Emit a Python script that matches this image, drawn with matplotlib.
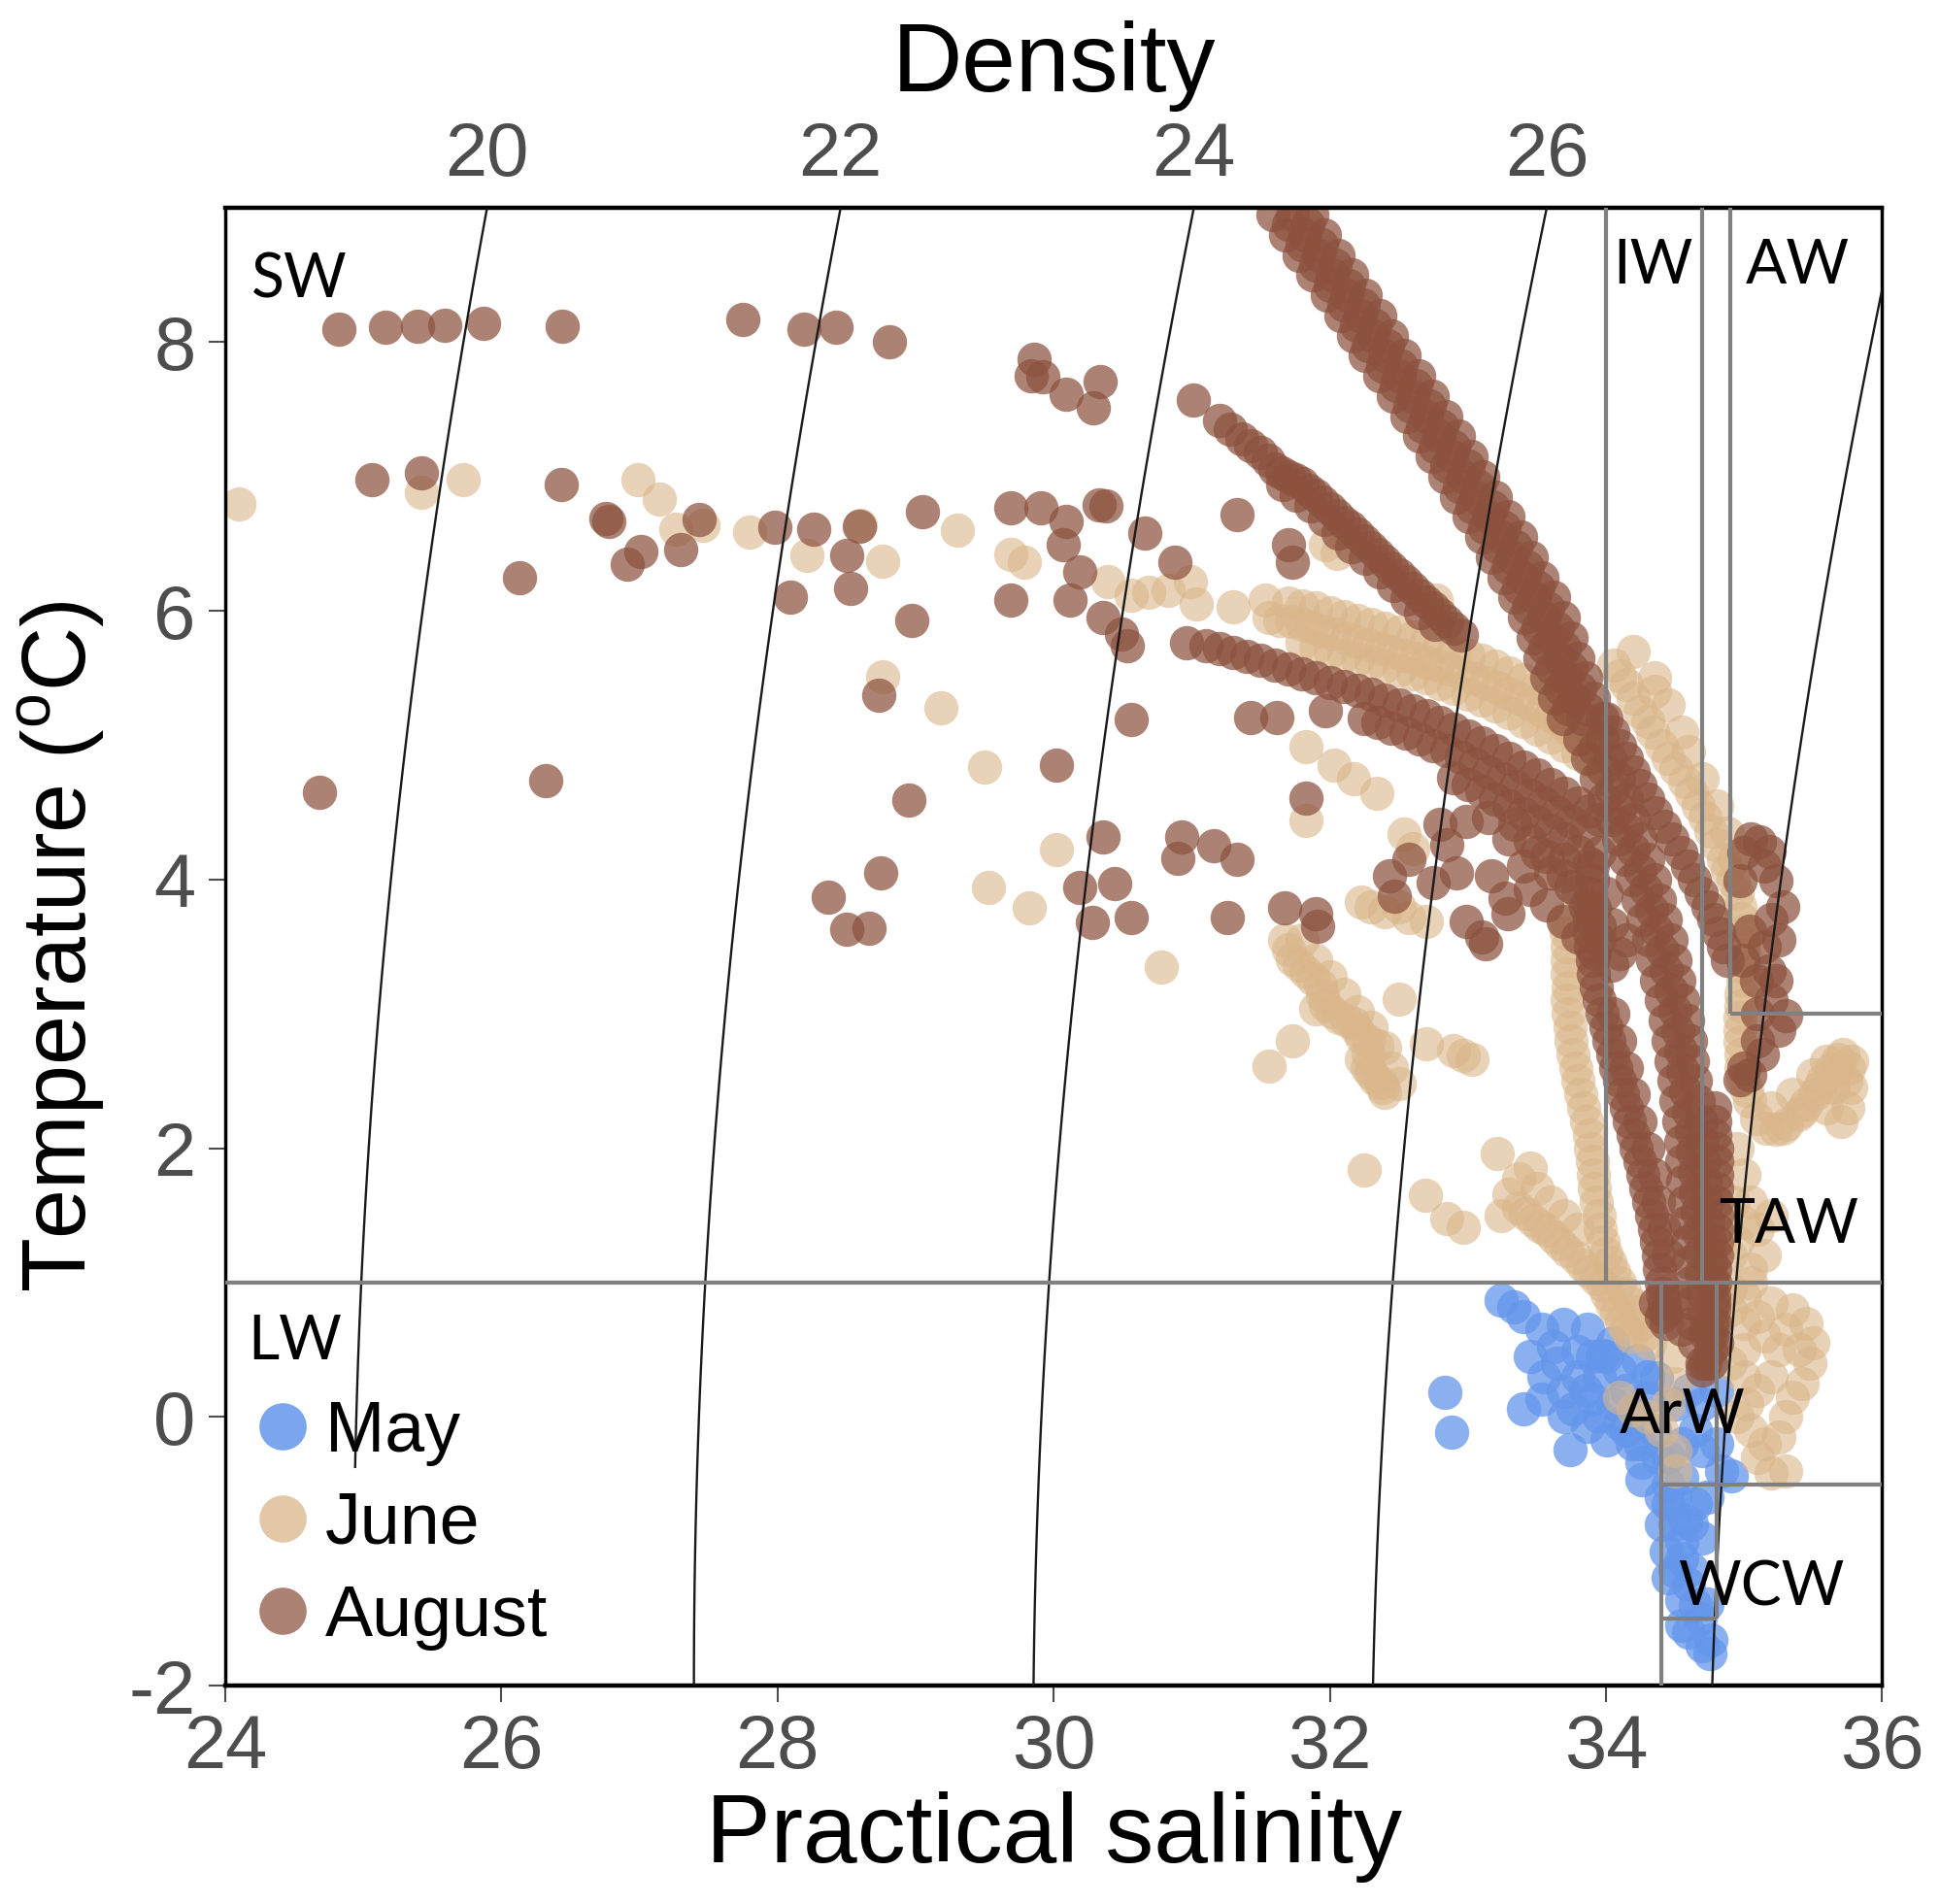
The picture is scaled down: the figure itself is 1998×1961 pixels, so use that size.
import numpy as np
import matplotlib
matplotlib.use("Agg")
import matplotlib.pyplot as plt
from matplotlib.lines import Line2D

plt.rcParams['font.family'] = ['Liberation Sans', 'DejaVu Sans']
plt.rcParams['mathtext.fontset'] = 'custom'
plt.rcParams['mathtext.rm'] = 'Liberation Sans'
plt.rcParams['axes.unicode_minus'] = False

# ---------------- data: (salinity, temperature) ----------------
may_pts = [(33.24, 0.87), (33.33, 0.82), (33.40, 0.75), (33.54, 0.65), (33.69, 0.69), (33.87, 0.65),
           (33.62, 0.52), (33.80, 0.49), (33.97, 0.46), (34.05, 0.55), (34.23, 0.42), (34.37, 0.29),
           (32.83, 0.18), (32.88, -0.11), (33.40, 0.06), (33.54, 0.13), (33.69, 0.19), (33.76, 0.06),
           (33.90, 0.13), (33.74, -0.24), (33.87, -0.07), (34.01, -0.17), (34.19, -0.20), (34.26, -0.34),
           (34.26, -0.47), (34.40, -0.60), (34.40, -0.80), (34.44, -1.00), (34.55, -0.93), (34.62, -1.13),
           (34.62, -0.80), (34.73, -0.60), (34.84, -0.40), (34.91, -0.44), (34.73, -1.39), (34.76, -1.66),
           (34.75, -1.76), (34.55, -1.36), (34.58, -0.77), (34.70, -0.25), (34.65, -0.10), (34.55, -0.45),
           (34.50, -0.60), (34.60, -1.25), (34.68, -1.50), (34.50, -1.15), (34.45, -0.30), (34.35, -0.10),
           (34.15, 0.20), (34.10, -0.05), (33.95, 0.30), (33.80, 0.30), (34.20, 0.05), (34.30, 0.15),
           (34.50, 0.10), (34.60, 0.20), (34.70, 0.10), (34.80, -0.20), (34.45, -1.20), (34.55, -1.55),
           (34.75, 0.40), (34.80, 0.20), (34.75, 0.60)]
may_core = [(33.65, 0.40), (33.70, 0.00), (33.85, 0.20), (33.95, 0.00), (34.05, 0.10), (34.15, -0.10),
            (34.25, -0.20), (34.30, 0.30), (34.38, -0.30), (34.45, -0.50), (34.50, -0.80), (34.55, -1.05),
            (34.65, -0.65), (34.70, -0.90), (34.65, -1.40), (34.70, -1.70), (34.60, -1.60), (34.45, -0.65),
            (34.55, -0.20), (33.55, 0.30), (33.45, 0.45), (34.10, 0.35), (34.00, 0.45), (33.90, 0.45)]

june_left = [(24.10, 6.80), (25.42, 6.88), (25.72, 6.98), (26.99, 6.98), (27.14, 6.83), (27.26, 6.61),
             (27.46, 6.64), (27.80, 6.59), (28.21, 6.41), (28.60, 6.64), (28.76, 6.37), (29.30, 6.60),
             (28.76, 5.51), (29.18, 5.28), (29.50, 4.84), (29.53, 3.94), (29.82, 3.79), (30.02, 4.22),
             (30.78, 3.35)]
june_mid = [(29.69, 6.42), (29.79, 6.36), (30.39, 6.22), (30.56, 6.12), (30.69, 6.14), (30.83, 6.15),
            (30.99, 6.22), (31.03, 6.05), (31.30, 6.03), (31.53, 6.08), (31.97, 6.49), (32.05, 6.43),
            (32.77, 6.08), (31.83, 4.99), (32.03, 4.85), (32.17, 4.75), (32.34, 4.64), (31.83, 4.44),
            (32.54, 4.34), (32.60, 4.23)]
june_band = [(31.56, 5.95), (31.72, 5.92), (31.87, 5.88), (32.03, 5.83), (32.20, 5.77), (32.37, 5.72),
             (32.54, 5.67), (32.70, 5.62), (32.87, 5.57), (33.04, 5.50), (33.21, 5.43), (33.37, 5.35),
             (33.54, 5.26), (33.66, 5.18), (33.78, 5.09), (33.90, 5.00),
             (31.70, 6.06), (31.90, 6.02), (32.10, 5.96), (32.30, 5.90), (32.50, 5.84), (32.70, 5.77),
             (32.90, 5.70), (33.10, 5.63), (33.30, 5.54), (33.50, 5.43), (33.70, 5.32),
             (31.80, 5.76), (32.00, 5.70), (32.20, 5.64), (32.40, 5.59), (32.60, 5.53), (32.80, 5.46),
             (33.00, 5.38), (33.20, 5.29), (33.40, 5.18), (33.60, 5.06), (33.80, 4.94),
             (31.64, 5.93), (31.80, 5.90), (31.95, 5.85), (32.12, 5.80), (32.28, 5.75), (32.45, 5.70),
             (32.62, 5.65), (32.78, 5.60), (32.95, 5.54), (33.12, 5.47), (33.29, 5.39), (33.45, 5.30),
             (33.60, 5.22), (33.72, 5.13), (33.84, 5.05),
             (31.80, 6.04), (32.00, 5.99), (32.20, 5.93), (32.40, 5.87), (32.60, 5.81), (32.80, 5.74),
             (33.00, 5.67), (33.20, 5.59), (33.40, 5.49), (33.60, 5.38),
             (31.90, 5.73), (32.10, 5.67), (32.30, 5.62), (32.50, 5.56), (32.70, 5.50), (32.90, 5.42),
             (33.10, 5.34), (33.30, 5.24), (33.50, 5.12), (33.70, 5.00), (33.90, 4.88)]
june_taw = [(34.06, 5.60), (34.15, 5.45), (34.25, 5.25), (34.34, 5.10), (34.45, 4.90), (34.57, 4.73),
            (34.67, 4.55), (34.76, 4.36), (34.85, 4.15), (34.92, 3.99), (34.97, 3.80), (34.99, 3.62),
            (35.00, 3.44), (34.99, 3.25), (34.98, 3.06), (34.97, 2.88), (34.98, 2.70), (34.99, 2.51),
            (34.10, 5.52), (34.20, 5.35), (34.30, 5.18), (34.40, 5.00), (34.51, 4.82), (34.62, 4.64),
            (34.72, 4.46), (34.80, 4.26), (34.88, 4.07), (34.95, 3.90), (34.98, 3.71), (35.00, 3.53),
            (35.00, 3.35), (34.98, 3.15), (34.97, 2.97), (34.97, 2.79), (34.98, 2.60), (35.02, 2.43),
            (34.60, 4.95), (34.70, 4.75), (34.80, 4.55), (34.88, 4.35), (34.93, 4.15), (34.55, 5.10),
            (34.45, 5.30), (34.35, 5.50), (34.20, 5.70), (34.35, 5.40),
            (35.04, 2.35), (35.09, 2.22), (35.16, 2.15), (35.23, 2.14), (35.31, 2.18), (35.39, 2.25),
            (35.45, 2.33), (35.51, 2.40), (35.57, 2.50), (35.63, 2.59), (35.68, 2.66), (35.72, 2.70),
            (35.76, 2.60), (35.77, 2.45), (35.75, 2.30), (35.20, 2.30), (35.35, 2.40), (35.50, 2.55),
            (35.65, 2.45), (35.70, 2.20), (35.60, 2.30), (35.28, 2.15), (35.42, 2.28), (35.55, 2.45),
            (35.67, 2.58), (35.74, 2.50), (35.60, 2.65), (35.78, 2.65),
            (34.95, 2.00), (35.00, 1.80), (35.05, 1.60), (35.10, 1.40), (35.15, 1.20), (35.05, 1.10),
            (34.95, 1.30), (35.20, 1.50), (34.92, 1.60), (34.90, 1.20), (35.00, 1.45)]
june_low = [(35.00, 0.90), (35.00, 0.70), (35.00, 0.50), (35.00, 0.30), (35.02, 0.10), (35.05, -0.10),
            (35.10, -0.30), (35.20, -0.42), (35.30, -0.40), (35.35, 0.80), (35.45, 0.70), (35.50, 0.55),
            (35.48, 0.40), (35.42, 0.25), (35.35, 0.15), (35.30, 0.00), (35.25, -0.15), (35.15, -0.20),
            (35.25, 0.50), (35.15, 0.60), (34.90, 0.80), (34.90, 0.40), (34.95, 0.00), (35.10, 0.20),
            (35.20, 0.30), (35.30, 0.65), (35.40, 0.50), (35.10, 0.75), (35.20, 0.85), (34.90, 0.95),
            (35.05, 1.00),
            (34.10, 0.15), (34.20, 0.05), (34.30, 0.00), (34.40, -0.10), (34.50, -0.25), (34.50, -0.40),
            (34.45, 0.10), (34.48, 0.45), (34.50, 0.25)]
june_shelf = [(33.70, 3.70), (33.72, 3.50), (33.72, 3.30), (33.72, 3.10), (33.74, 2.90), (33.76, 2.70),
              (33.80, 2.50), (33.84, 2.30), (33.88, 2.10), (33.90, 1.90), (33.92, 1.70), (33.95, 1.50),
              (33.98, 1.30), (34.03, 1.15), (34.10, 1.00), (34.18, 0.85), (34.26, 0.70), (34.32, 0.55),
              (33.71, 3.60), (33.72, 3.40), (33.73, 3.20), (33.73, 3.00), (33.75, 2.80), (33.78, 2.60),
              (33.82, 2.40), (33.86, 2.20), (33.89, 2.00), (33.91, 1.80), (33.93, 1.60), (33.96, 1.40),
              (34.00, 1.22), (34.06, 1.08), (34.14, 0.92), (34.22, 0.78), (34.29, 0.62)]
june_slope = [(32.23, 3.83), (32.40, 3.76), (32.57, 3.72), (32.70, 3.69), (32.30, 3.80), (32.50, 3.80),
              (31.67, 3.55), (31.73, 3.41), (31.83, 3.31), (31.93, 3.21), (31.97, 3.07), (32.07, 2.97),
              (32.17, 2.93), (32.23, 2.83), (32.34, 2.76), (32.23, 2.66), (32.30, 2.56), (32.37, 2.49),
              (32.40, 2.42), (31.90, 3.04), (31.73, 2.80), (31.56, 2.61), (32.50, 3.11), (32.70, 2.78),
              (32.97, 2.69), (32.90, 2.73), (32.25, 1.84), (32.69, 1.65), (32.85, 1.48), (32.97, 1.41),
              (33.21, 1.96), (33.37, 1.77), (33.24, 1.50), (33.37, 1.56), (33.47, 1.46), (33.57, 1.39),
              (33.67, 1.29), (33.78, 1.19), (33.88, 1.08), (33.98, 0.98), (34.04, 0.84), (34.11, 0.71),
              (34.18, 0.60), (31.80, 3.55), (31.90, 3.40), (32.00, 3.28), (32.10, 3.15), (32.20, 3.02),
              (32.30, 2.90), (32.40, 2.75), (32.45, 2.60), (32.50, 2.48), (33.03, 2.66),
              (31.70, 3.48), (31.78, 3.36), (31.88, 3.26), (31.95, 3.14), (32.02, 3.02), (32.12, 2.95),
              (32.20, 2.88), (32.28, 2.80), (32.28, 2.70), (32.27, 2.60), (32.33, 2.52), (32.38, 2.45),
              (33.30, 1.66), (33.42, 1.51), (33.52, 1.42), (33.62, 1.34), (33.72, 1.24), (33.83, 1.13),
              (33.93, 1.03), (34.01, 0.91), (34.08, 0.78), (34.15, 0.65), (33.50, 1.70), (33.60, 1.60),
              (33.70, 1.50), (33.80, 1.40), (33.45, 1.85)]

aug_left = [(24.82, 8.10), (25.16, 8.11), (25.39, 8.12), (25.59, 8.13), (25.87, 8.14), (26.44, 8.12),
            (27.75, 8.17), (28.19, 8.10), (28.42, 8.11), (28.81, 8.00), (25.06, 6.98), (25.42, 7.03),
            (26.43, 6.94), (26.13, 6.25), (24.68, 4.65), (26.32, 4.74), (26.76, 6.69), (26.78, 6.67),
            (27.01, 6.44), (26.91, 6.35), (27.30, 6.46), (27.43, 6.68), (27.98, 6.62), (28.26, 6.61),
            (28.59, 6.63), (28.50, 6.41), (28.53, 6.17), (28.09, 6.10), (29.05, 6.74), (28.97, 5.93),
            (28.73, 5.37), (28.95, 4.59), (28.75, 4.05), (28.37, 3.87), (28.50, 3.63), (28.66, 3.64)]
aug_mid = [(29.84, 7.75), (29.86, 7.87), (29.92, 7.74), (30.09, 7.61), (30.34, 7.71), (30.29, 7.51),
           (29.69, 6.77), (29.91, 6.77), (30.09, 6.67), (30.33, 6.79), (30.38, 6.78), (30.66, 6.58),
           (30.07, 6.49), (30.19, 6.29), (29.69, 6.08), (30.12, 6.08), (30.36, 5.95), (30.49, 5.83),
           (30.53, 5.74), (30.88, 6.36), (30.56, 5.19), (30.02, 4.85), (30.36, 4.32), (30.93, 4.32),
           (30.90, 4.16), (31.16, 4.25), (31.33, 4.15), (30.19, 3.94), (30.44, 3.97), (30.28, 3.68),
           (30.56, 3.72), (31.26, 3.72), (31.43, 5.21), (31.62, 5.21), (31.97, 5.26), (31.83, 4.61),
           (31.67, 3.79), (31.90, 3.75), (31.91, 3.65), (31.70, 6.49), (31.73, 6.36), (31.33, 6.72)]
aug_right = [(32.43, 4.03), (32.57, 4.15), (32.85, 4.26), (32.92, 4.05), (33.17, 4.03), (33.27, 3.86),
             (32.99, 3.69), (33.10, 3.57), (32.47, 3.88), (32.75, 3.98), (33.45, 3.93), (33.57, 3.81),
             (33.69, 3.69), (33.80, 3.57), (33.92, 3.45), (34.04, 3.36), (33.29, 3.75), (33.13, 3.52),
             (33.30, 4.30), (33.50, 4.20), (33.60, 4.05), (33.75, 3.95), (33.85, 3.80), (33.95, 3.65),
             (34.00, 3.90), (33.90, 4.10), (33.70, 4.15), (33.40, 4.10), (33.95, 3.55), (34.10, 3.45)]
aug_aw = [(35.11, 4.28), (35.18, 4.21), (35.23, 3.99), (35.28, 3.80), (35.25, 3.55), (35.18, 3.32),
          (35.23, 3.25), (35.30, 2.99), (35.25, 2.88), (35.13, 2.70), (35.04, 2.55), (34.97, 2.51),
          (35.09, 3.25), (35.04, 3.62), (34.99, 3.40), (34.97, 3.99), (35.05, 4.30), (35.00, 4.20),
          (35.15, 4.10), (35.20, 3.70), (35.15, 3.50), (35.10, 3.00), (35.20, 3.10), (35.00, 2.60),
          (35.10, 2.80)]
aug_arw = [(34.40, 0.75), (34.50, 0.90), (34.70, 0.40), (34.36, 0.85), (34.55, 0.65), (34.72, 0.40),
           (34.70, 0.35)]

# the thick August track, upper part (rows of casts)
aug_main_temp = [8.95, 8.80, 8.65, 8.50, 8.35, 8.20, 8.05, 7.90, 7.75, 7.60, 7.45, 7.30, 7.15,
                 7.00, 6.85, 6.70, 6.55, 6.40, 6.25, 6.10, 5.95, 5.80, 5.65, 5.50, 5.35, 5.20]
aug_main_sal_l = [31.59, 31.68, 31.78, 31.88, 31.98, 32.08, 32.17, 32.26, 32.36, 32.46, 32.56, 32.65, 32.74,
                  32.83, 32.92, 33.01, 33.10, 33.18, 33.26, 33.34, 33.41, 33.47, 33.52, 33.57, 33.63, 33.69]
aug_main_sal_c = [31.73, 31.82, 31.92, 32.02, 32.12, 32.22, 32.31, 32.40, 32.50, 32.60, 32.70, 32.79, 32.88,
                  32.97, 33.06, 33.15, 33.24, 33.32, 33.40, 33.48, 33.55, 33.61, 33.66, 33.71, 33.77, 33.83]
aug_main_sal_r = [31.87, 31.96, 32.06, 32.16, 32.26, 32.36, 32.45, 32.54, 32.64, 32.74, 32.84, 32.93, 33.02,
                  33.11, 33.20, 33.29, 33.38, 33.46, 33.54, 33.62, 33.69, 33.75, 33.80, 33.85, 33.91, 33.97]
aug_main_temp2 = [8.875, 8.725, 8.575, 8.425, 8.275, 8.125, 7.975, 7.825, 7.675, 7.525, 7.375, 7.225, 7.075,
                  6.925, 6.775, 6.625, 6.475, 6.325, 6.175, 6.025, 5.875, 5.725, 5.575, 5.425, 5.275]
aug_main_sal_a = [31.70, 31.80, 31.90, 32.00, 32.10, 32.19, 32.28, 32.38, 32.48, 32.58, 32.67, 32.76, 32.85,
                  32.94, 33.03, 33.12, 33.21, 33.29, 33.37, 33.44, 33.51, 33.56, 33.61, 33.67, 33.73]
aug_main_sal_b = [31.84, 31.94, 32.04, 32.14, 32.24, 32.33, 32.42, 32.52, 32.62, 32.72, 32.81, 32.90, 33.00,
                  33.08, 33.18, 33.26, 33.35, 33.43, 33.51, 33.58, 33.65, 33.70, 33.75, 33.81, 33.87]
# lower part of the same track, down into the IW box
aug_deep_temp = [5.05, 4.90, 4.75, 4.60, 4.45, 4.30, 4.15, 4.00, 3.85, 3.70, 3.55, 3.40, 3.25, 3.10, 2.95, 2.80,
                 2.65, 2.50, 2.35, 2.20, 2.05, 1.90, 1.75, 1.60, 1.45, 1.30, 1.15, 1.00, 0.85, 0.70, 0.55]
aug_deep_sal_l = [33.81, 33.87, 33.93, 33.99, 34.04, 34.09, 34.14, 34.19, 34.23, 34.27, 34.31, 34.34, 34.37,
                  34.40, 34.43, 34.45, 34.47, 34.49, 34.51, 34.53, 34.54, 34.55, 34.56, 34.57, 34.58, 34.59,
                  34.60, 34.61, 34.62, 34.63, 34.64]
aug_deep_sal_r = [33.97, 34.03, 34.09, 34.15, 34.20, 34.25, 34.30, 34.35, 34.39, 34.43, 34.47, 34.50, 34.53,
                  34.56, 34.59, 34.61, 34.63, 34.65, 34.67, 34.69, 34.70, 34.71, 34.72, 34.73, 34.74, 34.75,
                  34.76, 34.77, 34.78, 34.79, 34.80]
aug_deep_temp2 = [4.975, 4.825, 4.675, 4.525, 4.375, 4.225, 4.075, 3.925, 3.775, 3.625, 3.475, 3.325, 3.175,
                  3.025, 2.875, 2.725, 2.575, 2.425, 2.275, 2.125, 1.975, 1.825, 1.675, 1.525, 1.375, 1.225,
                  1.075, 0.925, 0.775, 0.625]
aug_deep_sal_m = [33.92, 33.98, 34.04, 34.10, 34.15, 34.20, 34.25, 34.29, 34.33, 34.37, 34.41, 34.44, 34.47,
                  34.50, 34.52, 34.54, 34.56, 34.58, 34.60, 34.62, 34.63, 34.64, 34.65, 34.66, 34.67, 34.68,
                  34.69, 34.70, 34.71, 34.72]
aug_finger = [(34.00, 5.20), (34.10, 5.00), (34.20, 4.80), (34.30, 4.60), (34.42, 4.40), (34.54, 4.20),
              (34.64, 4.00), (34.74, 3.80), (34.82, 3.60), (34.88, 3.40), (34.05, 5.10), (34.15, 4.90),
              (34.25, 4.70), (34.36, 4.50), (34.48, 4.30), (34.59, 4.10), (34.69, 3.90), (34.78, 3.70),
              (34.85, 3.50)]
aug_strip = [(34.79, 2.30), (34.79, 2.10), (34.80, 1.90), (34.80, 1.70), (34.80, 1.50), (34.80, 1.30),
             (34.79, 1.10), (34.78, 0.90), (34.77, 0.70), (34.76, 0.50), (34.79, 2.20), (34.80, 2.00),
             (34.80, 1.80), (34.80, 1.60), (34.80, 1.40), (34.80, 1.20), (34.79, 1.00), (34.78, 0.80),
             (34.77, 0.60), (34.76, 0.40)]
aug_track2 = [(31.01, 7.57), (31.20, 7.42), (31.36, 7.28), (31.50, 7.18), (31.60, 7.06), (31.70, 7.00),
              (31.80, 6.95), (31.90, 6.86), (32.00, 6.76), (32.10, 6.66), (32.20, 6.57), (32.30, 6.47),
              (32.40, 6.37), (32.50, 6.27), (32.60, 6.17), (32.70, 6.07), (32.80, 5.97), (32.90, 5.87),
              (31.66, 6.94), (31.76, 6.86), (31.86, 6.78), (31.96, 6.68), (32.06, 6.58), (32.16, 6.48),
              (32.26, 6.39), (32.36, 6.29), (32.46, 6.19), (32.56, 6.09), (32.66, 5.99), (32.76, 5.90),
              (31.28, 7.35), (31.43, 7.23), (31.55, 7.12), (31.65, 7.03), (31.75, 6.98), (31.85, 6.90),
              (31.95, 6.81), (32.05, 6.71), (32.15, 6.62), (32.25, 6.52), (32.35, 6.42), (32.45, 6.32),
              (32.55, 6.22), (32.65, 6.12), (32.75, 6.02), (32.85, 5.92), (32.95, 5.82)]
aug_track3 = [(30.96, 5.76), (31.20, 5.72), (31.40, 5.66), (31.60, 5.60), (31.80, 5.53), (32.00, 5.47),
              (32.20, 5.41), (32.40, 5.34), (32.60, 5.26), (32.80, 5.17), (33.00, 5.07), (33.20, 4.96),
              (33.40, 4.84), (33.60, 4.71), (33.80, 4.57), (33.95, 4.45),
              (32.25, 5.20), (32.45, 5.13), (32.65, 5.05), (32.85, 4.96), (33.05, 4.86), (33.25, 4.75),
              (33.45, 4.63), (33.65, 4.50), (33.85, 4.36), (33.95, 4.20),
              (32.90, 4.76), (33.10, 4.66), (33.30, 4.55), (33.50, 4.43), (33.70, 4.30), (33.88, 4.12),
              (31.10, 5.74), (31.30, 5.69), (31.50, 5.63), (31.70, 5.57), (31.90, 5.50), (32.10, 5.44),
              (32.30, 5.38), (32.50, 5.30), (32.70, 5.22), (32.90, 5.12), (33.10, 5.02), (33.30, 4.90),
              (33.50, 4.78), (33.70, 4.64), (33.88, 4.51), (32.35, 5.17), (32.55, 5.09), (32.75, 5.00),
              (32.95, 4.91), (33.15, 4.80), (33.35, 4.69), (33.55, 4.57), (33.75, 4.43), (33.00, 4.71),
              (33.20, 4.60), (33.40, 4.49), (33.60, 4.37), (33.80, 4.21)]
aug_track4 = [(32.80, 4.41), (32.99, 4.43), (33.15, 4.46), (33.34, 4.41), (33.45, 4.29), (33.57, 4.17),
              (33.69, 4.03), (33.80, 3.91), (33.92, 3.79), (34.04, 3.67), (34.15, 3.55)]
aug_sub = [(33.90, 4.00), (33.88, 3.80), (33.88, 3.60), (33.90, 3.40), (33.93, 3.20), (33.97, 3.00),
           (34.02, 2.80), (34.07, 2.60), (34.12, 2.40), (34.17, 2.20), (34.22, 2.00), (34.27, 1.80),
           (34.31, 1.60), (34.35, 1.40), (34.38, 1.20), (34.40, 1.00), (34.42, 0.85), (34.44, 0.70),
           (33.89, 3.90), (33.88, 3.70), (33.89, 3.50), (33.91, 3.30), (33.95, 3.10), (34.00, 2.90),
           (34.05, 2.70), (34.10, 2.50), (34.15, 2.30), (34.20, 2.10), (34.25, 1.90), (34.29, 1.70),
           (34.33, 1.50), (34.37, 1.30), (34.39, 1.10), (34.41, 0.92), (34.43, 0.78),
           (34.05, 3.00), (34.10, 2.80), (34.15, 2.60), (34.20, 2.40), (34.25, 2.20), (34.30, 2.00),
           (34.35, 1.80), (34.38, 1.60), (34.42, 1.40), (34.45, 1.20)]

density_levels = [20, 22, 24, 26, 28]

# water-mass boundaries (salinity pair, temperature pair)
box_lines = [((24.0, 36.0), (1.0, 1.0)), ((34.0, 34.0), (1.0, 9.0)), ((34.7, 34.7), (1.0, 9.0)),
             ((34.9, 34.9), (3.0, 9.0)), ((34.9, 36.0), (3.0, 3.0)), ((34.4, 34.4), (-2.0, 1.0)),
             ((34.8, 34.8), (-1.5, 1.0)), ((34.4, 36.0), (-0.5, -0.5)), ((34.4, 34.8), (-1.5, -1.5))]
mass_labels = [("SW", 24.19, 8.46), ("IW", 34.05, 8.57), ("AW", 35.01, 8.57), ("TAW", 34.82, 1.43),
               ("LW", 24.16, 0.56), ("ArW", 34.10, 0.01), ("WCW", 34.52, -1.27)]


def sigma_t(s, t):
    # UNESCO EOS-80 at the surface
    rw = (999.842594 + 6.793952e-2 * t - 9.095290e-3 * t**2 + 1.001685e-4 * t**3
          - 1.120083e-6 * t**4 + 6.536332e-9 * t**5)
    a = 0.824493 - 4.0899e-3 * t + 7.6438e-5 * t**2 - 8.2467e-7 * t**3 + 5.3875e-9 * t**4
    b = -5.72466e-3 + 1.0227e-4 * t - 1.6546e-6 * t**2
    return rw + a * s + b * s**1.5 + 4.8314e-4 * s**2 - 1000.0


def xy(pts):
    arr = np.array(pts)
    return arr[:, 0], arr[:, 1]


may_s, may_t = xy(may_pts + may_core)
june_s, june_t = xy(june_left + june_mid + june_band + june_taw + june_low + june_shelf + june_slope)
aug_s, aug_t = xy(aug_left + aug_mid + aug_right + aug_aw + aug_arw + aug_finger + aug_strip
                  + aug_track2 + aug_track3 + aug_track4 + aug_sub)
aug_s = np.concatenate([aug_s, aug_main_sal_l, aug_main_sal_c, aug_main_sal_r, aug_main_sal_a,
                        aug_main_sal_b, aug_deep_sal_l, aug_deep_sal_r, aug_deep_sal_m])
aug_t = np.concatenate([aug_t, aug_main_temp, aug_main_temp, aug_main_temp, aug_main_temp2,
                        aug_main_temp2, aug_deep_temp, aug_deep_temp, aug_deep_temp2])

may_col, june_col, aug_col = '#6496eb', '#dab68a', '#8c523e'
may_a, june_a, aug_a = 0.75, 0.6, 0.72
grey_txt = '#4d4d4d'

fig = plt.figure(figsize=(19.99, 19.61), dpi=100)
ax = fig.add_axes([0.1161, 0.1147, 0.8535, 0.7761])

dot = 650
ax.scatter(may_s, may_t, s=dot, color=may_col, alpha=may_a, linewidths=0, zorder=1)
ax.scatter(june_s, june_t, s=dot, color=june_col, alpha=june_a, linewidths=0, zorder=1)
ax.scatter(aug_s, aug_t, s=dot, color=aug_col, alpha=aug_a, linewidths=0, zorder=1)

# isopycnals
sg = np.linspace(24.94, 36.0, 400)
tg = np.linspace(-2.0, 9.5, 300)
SS, TT = np.meshgrid(sg, tg)
ax.contour(SS, TT, sigma_t(SS, TT), levels=density_levels, colors='#1a1a1a', linewidths=1.7, zorder=3)

for (xs, ys) in box_lines:
    ax.plot(xs, ys, color='#808080', lw=3.0, zorder=3, solid_capstyle='butt')

for name, s0, t0 in mass_labels:
    ax.text(s0, t0, name, fontsize=45, family=['Lato', 'DejaVu Sans'], ha='left', va='center', zorder=4)

ax.set_xlim(24, 36)
ax.set_ylim(-2, 9)
ax.set_xticks(range(24, 37, 2))
ax.set_yticks(range(-2, 9, 2))
ax.tick_params(axis='both', labelsize=56, colors=grey_txt, length=12, width=1.5)
ax.tick_params(axis='x', pad=8)
ax.tick_params(axis='y', pad=10)
for side, sp in ax.spines.items():
    sp.set_linewidth(3.2 if side in ('top', 'bottom') else 2.5)
    sp.set_color('black')
ax.set_xlabel('Practical salinity', fontsize=72, labelpad=6)
ax.set_ylabel('Temperature ($^{\\rm o}$C)', fontsize=66, labelpad=16)

# density labels where the isopycnals meet the top edge
s_fine = np.linspace(24, 40, 4000)
cross = np.interp(density_levels, sigma_t(s_fine, 9.0), s_fine)
top_pos = [c for c in cross if c < 36]
top_lab = [str(l) for c, l in zip(cross, density_levels) if c < 36]
ax2 = ax.twiny()
ax2.set_xlim(24, 36)
ax2.set_xticks(top_pos)
ax2.set_xticklabels(top_lab)
ax2.tick_params(axis='x', length=0, labelsize=56, colors=grey_txt, pad=12)
for sp in ax2.spines.values():
    sp.set_visible(False)
ax2.set_xlabel('Density', fontsize=72, labelpad=22)

handles = [Line2D([], [], ls='none', marker='o', markersize=35, markeredgewidth=0,
                  color=c, alpha=a) for c, a in ((may_col, 0.85), (june_col, 0.75), (aug_col, 0.72))]
ax.legend(handles, ['May', 'June', 'August'], loc='lower left', bbox_to_anchor=(0.013, 0.024),
          frameon=False, fontsize=53, borderpad=0, borderaxespad=0, handlelength=1.0,
          handletextpad=0.1, labelspacing=0.35)

fig.savefig('out.png', dpi=100)
